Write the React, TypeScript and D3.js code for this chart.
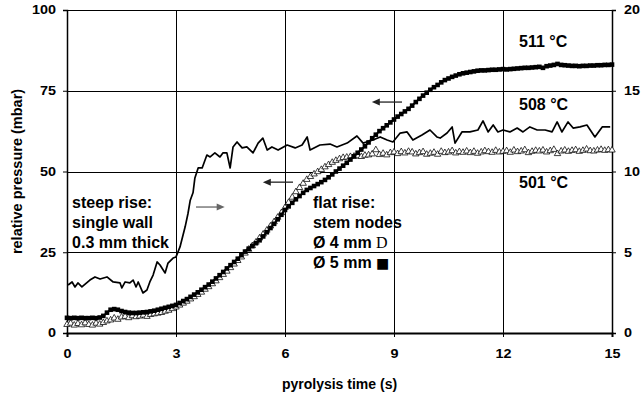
import { useRef, useEffect } from 'react';
import * as d3 from 'd3';

const W = 643;
const H = 396;

// sampling grid of the two marker series (0.1 s steps)
const sampleTimes = d3.range(151).map(i => i / 10);

// 511 °C, stem node 5 mm (filled squares, left axis, mbar)
const squares511 = [
  4.7, 4.6, 4.7, 4.6, 4.7, 4.6, 4.6, 4.7, 4.6, 4.8,
  5.3, 6.3, 7.2, 7.4, 7.2, 6.8, 6.5, 6.3, 6.2, 6.2,
  6.3, 6.4, 6.5, 6.7, 6.9, 7.2, 7.5, 7.8, 8.1, 8.4,
  8.7, 9.3, 9.9, 10.5, 11.2, 11.9, 12.6, 13.4, 14.2, 15.0,
  15.9, 16.9, 17.9, 18.9, 20.0, 21.0, 22.0, 23.0, 24.1, 25.2,
  26.1, 26.9, 27.8, 28.7, 29.9, 31.2, 32.5, 33.8, 35.2, 36.6,
  38.1, 39.2, 40.3, 41.4, 42.4, 43.4, 44.3, 44.9, 45.5, 46.1,
  46.7, 47.4, 48.2, 49.1, 50.0, 50.9, 51.8, 52.7, 53.7, 54.7,
  55.8, 56.8, 57.8, 59.0, 60.3, 61.4, 62.5, 63.4, 64.3, 65.2,
  66.1, 67.0, 67.8, 68.6, 69.4, 70.4, 71.5, 72.5, 73.5, 74.4,
  75.3, 76.1, 76.8, 77.6, 78.3, 78.8, 79.3, 79.7, 80.1, 80.4,
  80.6, 80.8, 81.0, 81.2, 81.3, 81.3, 81.4, 81.5, 81.5, 81.6,
  81.7, 81.6, 81.7, 81.8, 81.9, 82.0, 82.1, 82.1, 82.2, 82.3,
  82.4, 82.1, 82.6, 82.8, 83.0, 83.3, 83.0, 82.9, 82.8, 82.7,
  82.7, 82.6, 82.7, 82.7, 82.8, 82.8, 82.9, 82.9, 83.0, 83.0,
  83.1
];

// 501 °C, stem node 4 mm (open triangles, left axis, mbar)
const triangles501 = [
  2.6, 3.0, 2.4, 2.9, 2.5, 3.1, 2.6, 2.4, 3.0, 2.7,
  3.2, 3.7, 4.0, 4.6, 4.2, 4.9, 5.1, 4.7, 5.3, 5.0,
  5.2, 5.5, 5.1, 5.7, 5.9, 6.1, 6.3, 6.7, 7.0, 7.5,
  8.0, 8.6, 9.2, 9.8, 10.5, 11.2, 11.9, 12.6, 13.5, 14.3,
  15.2, 16.1, 17.1, 18.1, 19.1, 20.2, 21.3, 22.4, 23.5, 24.7,
  25.9, 27.0, 28.1, 29.4, 30.6, 31.8, 33.1, 34.4, 35.8, 37.2,
  38.8, 40.4, 42.0, 43.7, 45.0, 46.3, 47.5, 48.4, 49.2, 49.9,
  50.6, 51.4, 52.1, 52.8, 53.4, 53.9, 54.3, 54.4, 54.6, 54.7,
  54.8, 54.6, 55.0, 55.1, 55.4, 56.7, 55.2, 55.6, 55.1, 55.8,
  56.0, 55.5, 56.1, 55.7, 56.2, 56.0, 55.4, 55.8, 56.1, 55.3,
  55.6, 55.9, 55.3, 56.2, 55.8, 56.0, 56.4, 55.7, 56.1, 55.9,
  56.3, 55.8, 56.2, 55.6, 56.0, 56.4, 56.1, 55.9, 56.5, 56.0,
  56.2, 56.4, 55.9, 56.6, 56.1, 56.3, 56.7, 55.8, 56.2, 56.5,
  56.3, 56.6, 56.0, 56.4, 56.8, 55.5, 56.3, 56.6, 56.2, 56.5,
  56.7, 56.2, 56.5, 56.9, 56.4, 56.3, 56.6, 56.8, 56.5, 56.7,
  56.6
];

// 508 °C, single wall (solid line, right axis)
const wallTimes = [
  0.03, 0.14, 0.22, 0.30, 0.41, 0.63, 0.77, 0.91, 1.10, 1.27, 1.46, 1.51, 1.60, 1.73,
  1.82, 1.90, 1.96, 2.09, 2.20, 2.28, 2.37, 2.48, 2.56, 2.70, 2.78, 2.92, 3.00, 3.11,
  3.25, 3.33, 3.39, 3.47, 3.52, 3.61, 3.72, 3.85, 3.94, 4.07, 4.21, 4.29, 4.40, 4.49,
  4.57, 4.68, 4.82, 4.95, 5.12, 5.26, 5.39, 5.51, 5.64, 5.81, 6.06, 6.28, 6.47, 6.61,
  6.69, 6.96, 7.24, 7.43, 7.71, 7.98, 8.15, 8.42, 8.62, 8.81, 8.97, 9.17, 9.36, 9.52,
  9.77, 9.99, 10.18, 10.27, 10.46, 10.60, 10.68, 10.87, 11.09, 11.31, 11.45, 11.59, 11.73, 11.86,
  12.00, 12.19, 12.39, 12.55, 12.74, 12.94, 13.16, 13.35, 13.49, 13.62, 13.79, 13.93, 14.12, 14.31,
  14.53, 14.73, 14.95
];
const wallValues = [
  2.97, 3.16, 2.85, 3.10, 2.85, 3.28, 3.47, 3.34, 3.47, 3.16, 3.10, 2.79, 3.16, 3.10,
  3.28, 2.85, 3.16, 2.48, 2.66, 3.16, 3.59, 4.40, 4.21, 3.72, 4.33, 4.64, 4.71, 5.33,
  6.56, 7.40, 8.20, 8.70, 9.60, 10.22, 10.22, 11.02, 10.90, 11.15, 10.90, 11.15, 11.15, 10.22,
  11.52, 11.83, 11.46, 11.52, 11.15, 11.76, 12.07, 11.33, 11.52, 11.33, 11.64, 11.46, 11.64, 12.14,
  11.33, 11.64, 11.70, 11.52, 11.76, 12.20, 11.76, 11.95, 12.14, 11.95, 11.83, 12.38, 12.45, 11.95,
  12.26, 12.57, 12.14, 12.07, 12.38, 12.76, 11.76, 12.45, 12.45, 12.57, 13.13, 12.45, 12.88, 12.45,
  12.57, 12.45, 12.69, 12.45, 12.76, 12.57, 12.57, 12.45, 13.07, 12.45, 13.07, 12.69, 12.76, 12.88,
  12.14, 12.76, 12.76
];

const xTicks = [0, 3, 6, 9, 12, 15];
const leftTicks = [0, 25, 50, 75, 100];
const rightTicks = [0, 5, 10, 15, 20];

// annotations, placed in data coordinates (time, left-axis mbar)
const tempLabels = [
  { text: '511 °C', t: 12.44, v: 88.5 },
  { text: '508 °C', t: 12.44, v: 69.0 },
  { text: '501 °C', t: 12.44, v: 44.9 }
];
const steepNote = ['steep rise:', 'single wall', '0.3 mm thick'];
const flatNote = ['flat rise:', 'stem nodes'];
const arrows = [
  { t0: 3.55, t1: 4.34, v: 39.0, color: '#666' },
  { t0: 6.22, t1: 5.39, v: 46.7, color: '#222' },
  { t0: 9.22, t1: 8.39, v: 71.5, color: '#222' }
];

export default function App() {
  const svgRef = useRef<SVGSVGElement>(null);

  useEffect(() => {
    const svg = d3.select(svgRef.current);
    svg.selectAll('*').remove();

    const margin = { top: 10, right: 31, bottom: 63, left: 67 };
    const x = d3.scaleLinear().domain([0, 15]).range([margin.left, W - margin.right]);
    const yL = d3.scaleLinear().domain([0, 100]).range([H - margin.bottom, margin.top]);
    const yR = d3.scaleLinear().domain([0, 20]).range([H - margin.bottom, margin.top]);
    const font = '"Liberation Sans", Arial, sans-serif';

    svg.append('rect').attr('width', W).attr('height', H).attr('fill', '#fff');

    // grid
    const grid = svg.append('g').attr('stroke', '#000').attr('stroke-width', 1);
    grid.selectAll('line.v')
      .data(xTicks.slice(1, -1))
      .join('line')
      .attr('x1', d => Math.round(x(d)) + 0.5).attr('x2', d => Math.round(x(d)) + 0.5)
      .attr('y1', yL(0)).attr('y2', yL(100));
    grid.selectAll('line.h')
      .data(leftTicks.slice(1, -1))
      .join('line')
      .attr('x1', x(0)).attr('x2', x(15))
      .attr('y1', d => Math.round(yL(d)) + 0.5).attr('y2', d => Math.round(yL(d)) + 0.5);

    // frame top line
    svg.append('line').attr('x1', x(0)).attr('x2', x(15)).attr('y1', yL(100) + 0.5).attr('y2', yL(100) + 0.5).attr('stroke', '#000');

    // axes
    const tickFmt = (g: any) => g.selectAll('text')
      .attr('font-family', font).attr('font-weight', 'bold').attr('font-size', 12).attr('fill', '#000');

    const bottom = svg.append('g')
      .attr('transform', `translate(0,${yL(0)})`)
      .call(d3.axisBottom(x).tickValues(xTicks).tickSize(4).tickPadding(12).tickFormat(d3.format('d')));
    bottom.select('.domain').attr('stroke-width', 2);
    bottom.call(tickFmt);

    const left = svg.append('g')
      .attr('transform', `translate(${x(0)},0)`)
      .call(d3.axisLeft(yL).tickValues(leftTicks).tickSize(4).tickPadding(7));
    left.select('.domain').attr('stroke-width', 1.5);
    left.call(tickFmt);

    const right = svg.append('g')
      .attr('transform', `translate(${x(15)},0)`)
      .call(d3.axisRight(yR).tickValues(rightTicks).tickSize(4).tickPadding(8));
    right.select('.domain').attr('stroke-width', 1.5);
    right.call(tickFmt);

    // widen tick labels a little (reference glyphs are horizontally stretched)
    svg.selectAll('.tick text').each(function () {
      const t = d3.select(this as SVGTextElement);
      const tx = Number(t.attr('x')) || 0;
      const ty = Number(t.attr('y')) || 0;
      t.attr('x', 0).attr('y', 0)
        .attr('transform', `translate(${tx},${ty}) scale(1.2,1)`);
    });

    // axis titles
    svg.append('text')
      .attr('transform', `translate(22,${(yL(0) + yL(100)) / 2}) rotate(-90)`)
      .attr('text-anchor', 'middle')
      .attr('font-family', font).attr('font-weight', 'bold').attr('font-size', 14.5)
      .text('relative pressure (mbar)');
    svg.append('text')
      .attr('x', (x(0) + x(15)) / 2).attr('y', 389)
      .attr('text-anchor', 'middle')
      .attr('font-family', font).attr('font-weight', 'bold').attr('font-size', 14)
      .text('pyrolysis time (s)');

    // 501 °C triangles
    const triPts = sampleTimes.map((t, i) => [t, triangles501[i]]);
    svg.append('g')
      .selectAll('path')
      .data(triPts)
      .join('path')
      .attr('d', d3.symbol(d3.symbolTriangle, 18))
      .attr('transform', d => `translate(${x(d[0])},${yL(d[1])})`)
      .attr('fill', '#fff')
      .attr('stroke', '#000')
      .attr('stroke-width', 0.75);

    // 511 °C squares
    const sqPts = sampleTimes.map((t, i) => [t, squares511[i]]);
    svg.append('path')
      .datum(sqPts)
      .attr('d', d3.line().x(d => x(d[0])).y(d => yL(d[1])))
      .attr('fill', 'none')
      .attr('stroke', '#000')
      .attr('stroke-width', 2);
    svg.append('g')
      .selectAll('rect')
      .data(sqPts)
      .join('rect')
      .attr('x', d => x(d[0]) - 2.3)
      .attr('y', d => yL(d[1]) - 2.3)
      .attr('width', 4.6)
      .attr('height', 4.6)
      .attr('fill', '#000');

    // 508 °C single wall line (right axis)
    const wallPts = wallTimes.map((t, i) => [t, wallValues[i]]);
    svg.append('path')
      .datum(wallPts)
      .attr('d', d3.line().x(d => x(d[0])).y(d => yR(d[1])))
      .attr('fill', 'none')
      .attr('stroke', '#000')
      .attr('stroke-width', 1.7)
      .attr('stroke-linejoin', 'round');

    // arrows
    arrows.forEach(a => {
      const x0 = x(a.t0), x1 = x(a.t1), y = yL(a.v);
      const dir = Math.sign(x1 - x0);
      svg.append('line')
        .attr('x1', x0).attr('x2', x1 - dir * 6).attr('y1', y).attr('y2', y)
        .attr('stroke', a.color).attr('stroke-width', 1.3);
      svg.append('path')
        .attr('d', `M${x1},${y}L${x1 - dir * 8},${y - 3.5}L${x1 - dir * 8},${y + 3.5}Z`)
        .attr('fill', a.color);
    });

    // text annotations
    const note = svg.append('g')
      .attr('font-family', font).attr('font-weight', 'bold').attr('font-size', 16).attr('fill', '#000');

    tempLabels.forEach(l => {
      note.append('text').attr('x', x(l.t)).attr('y', yL(l.v)).text(l.text);
    });

    steepNote.forEach((s, i) => {
      note.append('text').attr('x', x(0.14)).attr('y', yL(38.7) + i * 20).text(s);
    });

    flatNote.forEach((s, i) => {
      note.append('text').attr('x', x(6.77)).attr('y', yL(38.7) + i * 20).text(s);
    });
    const l4 = note.append('text').attr('x', x(6.77)).attr('y', yL(38.7) + 40);
    l4.append('tspan').text('Ø 4 mm ');
    l4.append('tspan').attr('font-family', '"Liberation Serif", serif').attr('font-weight', 'normal').text('D');
    const l5 = note.append('text').attr('x', x(6.77)).attr('y', yL(38.7) + 60);
    l5.append('tspan').text('Ø 5 mm ');
    l5.append('tspan').attr('font-family', '"DejaVu Sans", sans-serif').attr('font-size', 14).text('■');
  }, []);

  return (
    <svg
      ref={svgRef}
      width={W}
      height={H}
      style={{ position: 'absolute', left: 0, top: 0 }}
    />
  );
}
